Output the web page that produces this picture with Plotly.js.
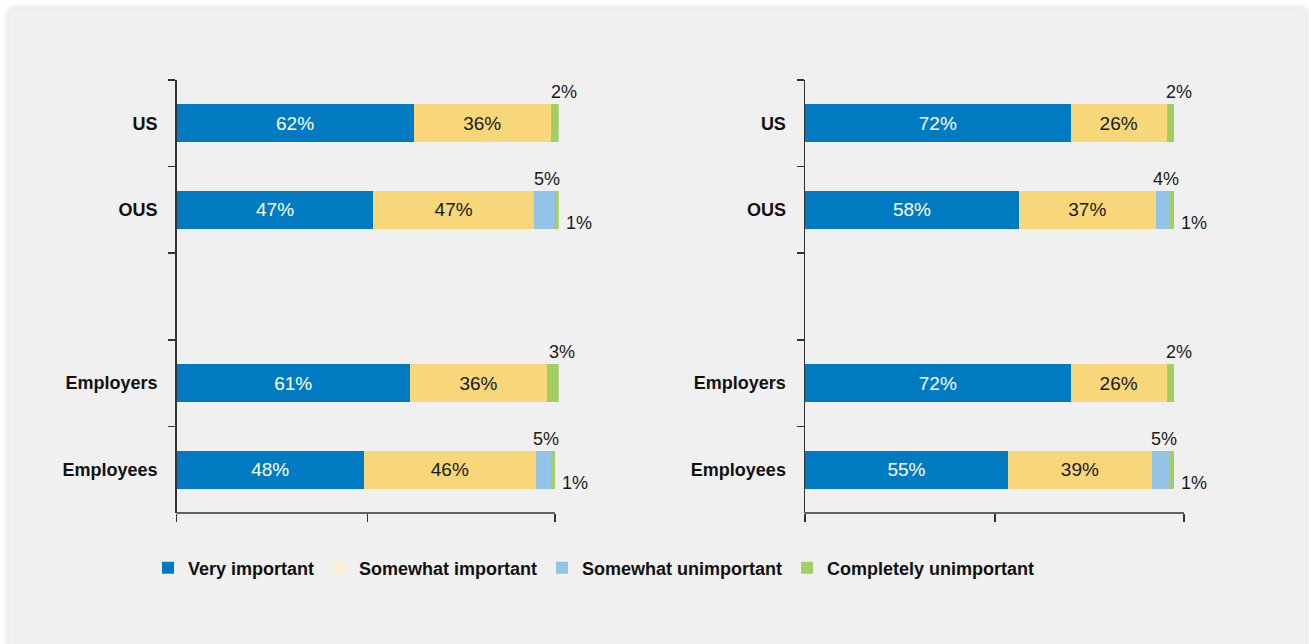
<!DOCTYPE html>
<html><head><meta charset="utf-8">
<script src="https://cdn.plot.ly/plotly-3.0.1.min.js"></script>
<style>
html,body{margin:0;padding:0;background:#ffffff;width:1309px;height:644px;overflow:hidden;}
#panel{position:absolute;left:9px;top:9px;width:1297px;height:660px;background:#f0f0f0;box-shadow:0 0 7px rgba(0,0,0,0.18);}
#chart{position:absolute;left:0;top:0;width:1309px;height:644px;}
</style></head><body><div id="panel"></div><div id="chart"></div>
<script>
const categories = ['US', 'OUS', ' ', 'Employers', 'Employees'];
const seriesNames = ['Very important', 'Somewhat important', 'Somewhat unimportant', 'Completely unimportant'];

// Left panel: bar lengths as drawn, labels as printed
const leftVery = [62, 51.5, null, 61, 49];
const leftSomewhat = [36, 42, null, 36, 45];
const leftUnimportant = [0, 5.5, null, 0, 4];
const leftCompletely = [2, 1, null, 3, 1];
const leftVeryLabels = [62, 47, null, 61, 48];
const leftSomewhatLabels = [36, 47, null, 36, 46];
const leftUnimportantLabels = [null, 5, null, null, 5];
const leftCompletelyLabels = [2, 1, null, 3, 1];

// Right panel
const rightVery = [72, 58, null, 72, 55];
const rightSomewhat = [26, 37, null, 26, 39];
const rightUnimportant = [0, 4, null, 0, 5];
const rightCompletely = [2, 1, null, 2, 1];
const rightVeryLabels = [72, 58, null, 72, 55];
const rightSomewhatLabels = [26, 37, null, 26, 39];
const rightUnimportantLabels = [null, 4, null, null, 5];
const rightCompletelyLabels = [2, 1, null, 2, 1];

const barColors = ['#007bc2', '#f8d67a', '#93c4e8', '#a3cf62'];
const legendColors = ['#007bc2', '#fcefd2', '#93c4e8', '#a3cf62'];
const insideTextColors = ['#ffffff', '#1a1a1a', '#1a1a1a', '#1a1a1a'];
const FONT = 'Liberation Sans, Arial, Helvetica, sans-serif';
const W = 1309, H = 644;

const traces = [];
const annotations = [];

function panel(xa, ya, vals, lbls) {
  vals.forEach((v, s) => {
    traces.push({
      type: 'bar', orientation: 'h', x: v, y: categories,
      xaxis: xa, yaxis: ya,
      marker: {color: barColors[s], line: {width: 0}},
      text: v.map((val, i) => (val != null && val >= 10 && lbls[s][i] != null) ? lbls[s][i] + '%' : ''),
      textposition: 'inside', insidetextanchor: 'middle', constraintext: 'none',
      textfont: {family: FONT, size: 19, color: insideTextColors[s]},
      hoverinfo: 'skip', showlegend: false
    });
  });
  const xref = xa, yref = ya;
  categories.forEach((c, i) => {
    let cum = [0];
    for (let s = 0; s < 4; s++) cum.push(cum[s] + (vals[s][i] || 0));
    for (let s = 2; s < 4; s++) {
      const v = vals[s][i], l = lbls[s][i];
      if (v == null || v <= 0 || l == null) continue;
      const start = cum[s], end = cum[s + 1];
      let ann = {xref: xref, yref: yref, y: c, showarrow: false, text: l + '%',
        font: {family: FONT, size: 18, color: '#1a1a1a'}, yanchor: 'middle'};
      if (s === 2) {
        Object.assign(ann, {x: (start + end) / 2, xanchor: 'center', xshift: 3, yshift: 31});
      } else if ((vals[2][i] || 0) > 0) {
        Object.assign(ann, {x: end, xanchor: 'left', xshift: 5, yshift: -13.5});
      } else {
        Object.assign(ann, {x: (start + end) / 2, xanchor: 'center', xshift: 9, yshift: 31});
      }
      annotations.push(ann);
    }
  });
}

panel('x', 'y', [leftVery, leftSomewhat, leftUnimportant, leftCompletely],
      [leftVeryLabels, leftSomewhatLabels, leftUnimportantLabels, leftCompletelyLabels]);
panel('x2', 'y2', [rightVery, rightSomewhat, rightUnimportant, rightCompletely],
      [rightVeryLabels, rightSomewhatLabels, rightUnimportantLabels, rightCompletelyLabels]);

seriesNames.forEach((n, s) => {
  traces.push({type: 'bar', orientation: 'h', x: [null], y: [null], xaxis: 'x', yaxis: 'y',
    name: n, marker: {color: legendColors[s], line: {width: 0}}, showlegend: true, hoverinfo: 'skip'});
});

const yDomain = [(H - 513) / H, (H - 80) / H];
function yAxis(anchor) {
  return {
    domain: yDomain, anchor: anchor, type: 'category', categoryorder: 'array',
    categoryarray: categories, range: [4.5, -0.5],
    showline: true, linecolor: '#333', linewidth: 1.5,
    ticks: 'outside', ticklen: 7, tickwidth: 1.5, tickcolor: '#333', tickson: 'boundaries',
    ticklabelstandoff: 14,
    tickfont: {family: FONT, size: 18, color: '#111', weight: 'bold'},
    showgrid: false, zeroline: false, fixedrange: true
  };
}
function xAxis(anchor, domPx, range, tv) {
  return {
    domain: [domPx[0] / W, domPx[1] / W], anchor: anchor, range: range,
    tickmode: 'array', tickvals: tv, ticks: 'outside', ticklen: 8, tickwidth: 1.5, tickcolor: '#333',
    showticklabels: false, showgrid: false, zeroline: false, showline: false, fixedrange: true
  };
}

const layout = {
  width: W, height: H,
  margin: {l: 0, r: 0, t: 0, b: 0},
  paper_bgcolor: 'rgba(0,0,0,0)', plot_bgcolor: 'rgba(0,0,0,0)',
  barmode: 'stack', bargap: 0.56,
  font: {family: FONT, color: '#111'},
  showlegend: true,
  legend: {orientation: 'h', x: 148 / W, xanchor: 'left', y: (H - 568) / H, yanchor: 'middle',
    font: {family: FONT, size: 18, color: '#111', weight: 'bold'}, bgcolor: 'rgba(0,0,0,0)',
    traceorder: 'normal'},
  xaxis: xAxis('y', [176.7, 558.7], [0, 100], [0, 50, 99]),
  xaxis2: xAxis('y2', [805, 1185.1], [0, 103], [0, 51.5, 102.7]),
  yaxis: yAxis('x'),
  yaxis2: yAxis('x2'),
  shapes: [
    {type: 'line', xref: 'x', yref: 'y domain', x0: 0, x1: 99, y0: 0, y1: 0, line: {color: '#333', width: 1.5}},
    {type: 'line', xref: 'x2', yref: 'y2 domain', x0: 0, x1: 102.7, y0: 0, y1: 0, line: {color: '#333', width: 1.5}}
  ],
  annotations: annotations
};

Plotly.newPlot('chart', traces, layout, {displayModeBar: false, staticPlot: true});
</script></body></html>
